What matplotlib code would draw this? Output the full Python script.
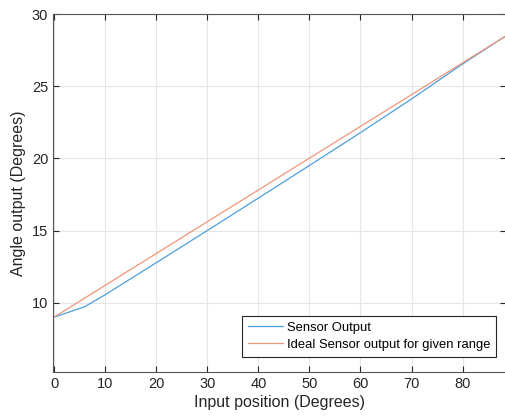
import matplotlib.pyplot as plt
import numpy as np

# values
pos = [0, 6, 10, 20, 30, 40, 50, 60, 70, 80, 88.5]
sensor = [9.0, 9.72, 10.55, 12.77, 15.0, 17.25, 19.51, 21.79, 24.12, 26.55, 28.5]
ideal_pos = [0, 88.5]
ideal = [9.0, 28.5]

plt.rcParams['font.family'] = ['Liberation Sans', 'DejaVu Sans']

fig = plt.figure(figsize=(5.05, 4.17), dpi=100)
ax = fig.add_axes([0.105, 0.108, 0.897, 0.858])

ax.plot(pos, sensor, color='#4d9fdc', lw=0.9, label='Sensor Output')
ax.plot(ideal_pos, ideal, color='#f0967a', lw=0.9, label='Ideal Sensor output for given range')

ax.set_xlim(-0.2, 88.5)
ax.set_ylim(5.2, 30)
ax.set_xticks(np.arange(0, 81, 10))
ax.set_yticks([10, 15, 20, 25, 30])
ax.grid(True, color='#e6e6e6', lw=0.8)
ax.tick_params(direction='in', top=True, right=True, labelsize=10.5, colors='#262626', length=4)
for s in ax.spines.values():
    s.set_color('#555555')
    s.set_linewidth(0.8)

ax.set_xlabel('Input position (Degrees)', fontsize=11.5, color='#262626', labelpad=3)
ax.set_ylabel('Angle output (Degrees)', fontsize=11.5, color='#262626', labelpad=4)

leg = ax.legend(loc='lower right', bbox_to_anchor=(0.978, 0.042), fontsize=9.4,
                fancybox=False, framealpha=1, edgecolor='#262626', handlelength=2.7,
                borderpad=0.45, labelspacing=0.4, handletextpad=0.25, borderaxespad=0)
leg.get_frame().set_linewidth(0.8)

fig.savefig('out.png', dpi=100)
